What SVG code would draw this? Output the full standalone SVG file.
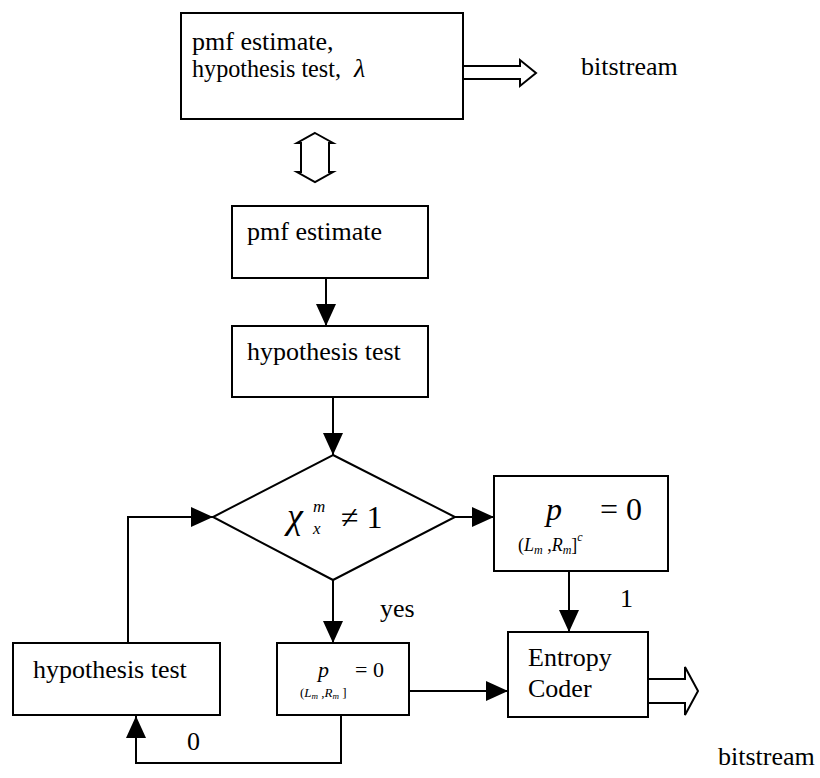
<svg xmlns="http://www.w3.org/2000/svg" width="820" height="778" viewBox="0 0 820 778">
  <style>
    .box { fill: #fff; stroke: #000; stroke-width: 2; }
    .hollow { fill: #fff; stroke: #000; stroke-width: 2; stroke-linejoin: miter; }
    .txt { font-family: 'Liberation Serif', 'DejaVu Serif', serif; font-size: 26px; fill: #000; }
    .math { font-family: 'Liberation Serif', 'DejaVu Serif', serif; fill: #000; }
    .it { font-style: italic; }
    .wire { fill: none; stroke: #000; stroke-width: 2; }
  </style>
  <defs>
    <marker id="head" viewBox="0 0 22 20" refX="22" refY="10" markerWidth="22" markerHeight="20" markerUnits="userSpaceOnUse" orient="auto">
      <path d="M0,0 L22,10 L0,20 Z" fill="#000"/>
    </marker>
  </defs>

  <rect width="820" height="778" fill="#fff"/>

  <!-- top block: pmf estimate, hypothesis test, lambda -->
  <g id="top-block">
    <rect class="box" x="181" y="13" width="282" height="106"/>
    <text class="txt" x="192" y="50">pmf estimate,</text>
    <text class="txt" x="192" y="77" textLength="149" lengthAdjust="spacingAndGlyphs">hypothesis test,</text>
    <text class="txt it" x="354" y="77">λ</text>
  </g>

  <!-- bitstream output of top block -->
  <g id="top-output">
    <polygon class="hollow" points="463,66 520,66 520,60 536,73 520,86 520,79 463,79"/>
    <text class="txt" x="581" y="75">bitstream</text>
  </g>

  <!-- two-way exchange -->
  <g id="exchange">
    <polygon class="hollow" points="315,133 333,143 329,143 329,172 333,172 315,182 297,172 301,172 301,143 297,143"/>
  </g>

  <g id="pmf-estimate">
    <rect class="box" x="232" y="206" width="196" height="72"/>
    <text class="txt" x="247" y="240">pmf estimate</text>
  </g>

  <g id="hypothesis-test">
    <rect class="box" x="232" y="326" width="196" height="71"/>
    <text class="txt" x="247" y="360">hypothesis test</text>
  </g>

  <g id="decision">
    <polygon class="box" points="333,455 455,517 333,580 213,517"/>
    <text class="math it" x="287" y="528" font-size="36">χ</text>
    <text class="math it" x="313" y="512" font-size="17">m</text>
    <text class="math it" x="313" y="534" font-size="17">x</text>
    <text class="math" x="341" y="528" font-size="32">≠ 1</text>
  </g>

  <g id="zero-outside">
    <rect class="box" x="494" y="476" width="174" height="95"/>
    <text class="math it" x="546" y="520" font-size="32">p</text>
    <text class="math" x="600" y="520" font-size="32">= 0</text>
    <text class="math" x="518" y="551" font-size="18">(<tspan class="it">L</tspan><tspan class="it" font-size="12" dy="3">m</tspan><tspan dy="-3"> ,</tspan><tspan class="it">R</tspan><tspan class="it" font-size="12" dy="3">m</tspan><tspan dy="-3">]</tspan><tspan class="it" font-size="12" dy="-10">c</tspan></text>
  </g>

  <g id="zero-inside">
    <rect class="box" x="277" y="643" width="132" height="72"/>
    <text class="math it" x="318" y="677" font-size="22">p</text>
    <text class="math" x="355" y="677" font-size="22">= 0</text>
    <text class="math" x="300" y="697" font-size="13">(<tspan class="it">L</tspan><tspan class="it" font-size="9" dy="2">m</tspan><tspan dy="-2"> ,</tspan><tspan class="it">R</tspan><tspan class="it" font-size="9" dy="2">m</tspan><tspan dy="-2"> ]</tspan></text>
  </g>

  <g id="entropy-coder">
    <rect class="box" x="508" y="632" width="140" height="85"/>
    <text class="txt" x="528" y="666">Entropy</text>
    <text class="txt" x="528" y="697">Coder</text>
    <polygon class="hollow" points="648,679 685,679 685,667 698,691 685,715 685,703 648,703"/>
  </g>

  <g id="bitstream-out">
    <text class="txt" x="718" y="765">bitstream</text>
  </g>

  <g id="hypothesis-test-loop">
    <rect class="box" x="13" y="643" width="207" height="72"/>
    <text class="txt" x="33" y="678">hypothesis test</text>
  </g>

  <g id="connectors">
    <path class="wire" d="M326,278 V326" marker-end="url(#head)"/>
    <path class="wire" d="M333,397 V455" marker-end="url(#head)"/>
    <path class="wire" d="M455,517 H494" marker-end="url(#head)"/>
    <path class="wire" d="M333,580 V643" marker-end="url(#head)"/>
    <path class="wire" d="M569,571 V632" marker-end="url(#head)"/>
    <path class="wire" d="M409,691 H508" marker-end="url(#head)"/>
    <path class="wire" d="M341,715 V763 H136 V716" marker-end="url(#head)"/>
    <path class="wire" d="M128,643 V517 H213" marker-end="url(#head)"/>
    <text class="txt" x="380" y="617">yes</text>
    <text class="txt" x="620" y="607">1</text>
    <text class="txt" x="187" y="750">0</text>
  </g>
</svg>
